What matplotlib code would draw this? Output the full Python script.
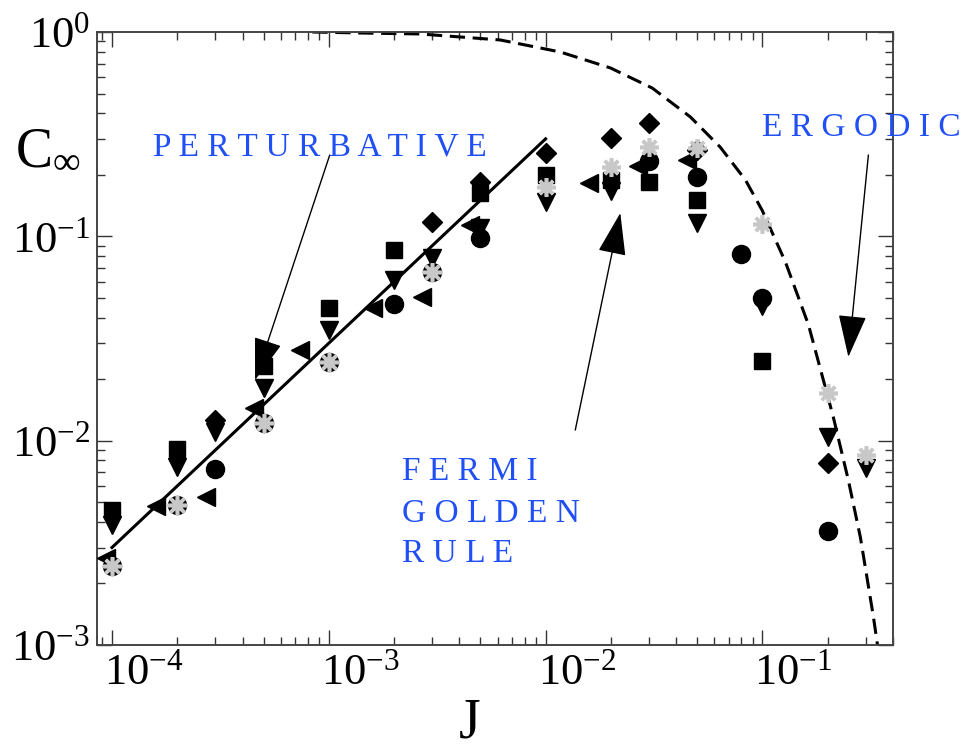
"""Saturation value C_inf versus coupling J, log-log, with regime annotations."""

import matplotlib.pyplot as plt
from matplotlib.ticker import LogLocator, NullFormatter

plt.rcParams["font.family"] = ["Liberation Serif", "DejaVu Serif"]
plt.rcParams["mathtext.fontset"] = "custom"
plt.rcParams["mathtext.rm"] = "Liberation Serif"
plt.rcParams["mathtext.it"] = "Liberation Serif:italic"

# data
sq_j = [1e-4, 2e-4, 5e-4, 1e-3, 2e-3, 5e-3, 1e-2, 2e-2, 3e-2, 5e-2, 0.1]
sq_c = [4.57e-3, 9.1e-3, 2.32e-2, 4.46e-2, 8.57e-2, 0.163, 0.200, 0.189, 0.184, 0.151, 0.0245]

dn_j = [1e-4, 2e-4, 3e-4, 5e-4, 1e-3, 2e-3, 3e-3, 5e-3, 1e-2, 2e-2, 5e-2, 0.1, 0.2, 0.3]
dn_c = [3.86e-3, 7.43e-3, 1.10e-2, 1.81e-2, 3.48e-2, 6.11e-2, 7.83e-2, 0.110, 0.147, 0.167,
        0.116, 0.0456, 1.04e-2, 7.34e-3]

dia_j = [3e-4, 3e-3, 5e-3, 1e-2, 2e-2, 3e-2, 5e-2, 0.2]
dia_c = [1.26e-2, 0.1175, 0.184, 0.256, 0.303, 0.359, 0.265, 7.77e-3]

lt_j = [9.4e-5, 1.6e-4, 2.7e-4, 4.5e-4, 7.4e-4, 1.6e-3, 2.7e-3, 4.5e-3, 1.59e-2, 2.67e-2, 4.5e-2]
lt_c = [2.66e-3, 4.79e-3, 5.30e-3, 1.44e-2, 2.78e-2, 4.46e-2, 0.0505, 0.1135, 0.182, 0.221, 0.236]

circ_j = [1e-4, 2e-4, 3e-4, 5e-4, 1e-3, 2e-3, 3e-3, 5e-3, 3e-2, 5e-2, 8e-2, 0.1, 0.2]
circ_c = [2.43e-3, 4.84e-3, 7.3e-3, 1.22e-2, 2.43e-2, 4.66e-2, 6.7e-2, 9.8e-2, 0.234, 0.195,
          0.082, 0.050, 3.6e-3]

ast_j = [1e-4, 2e-4, 5e-4, 1e-3, 3e-3, 1e-2, 2e-2, 3e-2, 5e-2, 0.1, 0.2, 0.3]
ast_c = [2.43e-3, 4.84e-3, 1.22e-2, 2.43e-2, 6.7e-2, 0.174, 0.218, 0.274, 0.270, 0.115,
         0.0171, 0.0085]

# perturbative fit line and ergodic curve
pert_j = [1e-4, 1e-2]
pert_c = [3.0e-3, 0.30]

erg_j = [8.4e-4, 1.39e-3, 2.64e-3, 6.18e-3, 1.17e-2, 1.99e-2, 3.10e-2, 4.65e-2, 6.39e-2,
         8.34e-2, 0.0997, 0.1276, 0.163, 0.212, 0.249, 0.283, 0.325, 0.350]
erg_c = [1.0, 0.989, 0.978, 0.914, 0.798, 0.667, 0.532, 0.384, 0.273,
         0.189, 0.134, 0.0749, 0.0369, 0.0131, 6.4e-3, 3.36e-3, 1.37e-3, 7.97e-4]

x_ticks = [1e-4, 1e-3, 1e-2, 1e-1]
x_labels = [r"$10^{-4}$", r"$10^{-3}$", r"$10^{-2}$", r"$10^{-1}$"]
y_ticks = [1e-3, 1e-2, 1e-1, 1e0]
y_labels = [r"$10^{-3}$", r"$10^{-2}$", r"$10^{-1}$", r"$10^{0}$"]

BLUE = "#1f4ff5"

fig = plt.figure(figsize=(9.79, 7.49), dpi=100)
ax = fig.add_axes([97 / 979, 1 - 645 / 749, (893 - 97) / 979, (645 - 32) / 749])

ax.plot(erg_j, erg_c, color="black", linestyle=(0, (5, 2.5)), linewidth=2.2, zorder=2)
ax.plot(pert_j, pert_c, color="black", linewidth=2.2, zorder=2)

ax.plot(sq_j, sq_c, "s", color="black", markersize=11.5, linestyle="none", zorder=3)
ax.plot(dn_j, dn_c, "v", color="black", markersize=13.5, linestyle="none", zorder=3)
ax.plot(dia_j, dia_c, "D", color="black", markersize=10.5, linestyle="none", zorder=3)
ax.plot(lt_j, lt_c, "<", color="black", markersize=13.5, linestyle="none", zorder=3)
ax.plot(circ_j, circ_c, "o", color="black", markersize=13, linestyle="none", zorder=3)
ax.plot(ast_j, ast_c, marker=(8, 2, 0), color="#c8c8c8", markersize=13.5, markeredgewidth=2.6,
        linestyle="none", zorder=4)

ax.set_xscale("log")
ax.set_yscale("log")
ax.set_xlim(0.853e-4, 0.40)
ax.set_ylim(1e-3, 1.0)

ax.set_xticks(x_ticks)
ax.set_xticklabels([])
ax.set_yticks(y_ticks)
ax.set_yticklabels(y_labels)
ax.xaxis.set_minor_locator(LogLocator(base=10, subs=range(2, 10)))
ax.yaxis.set_minor_locator(LogLocator(base=10, subs=range(2, 10)))
ax.xaxis.set_minor_formatter(NullFormatter())
ax.yaxis.set_minor_formatter(NullFormatter())
ax.tick_params(which="both", direction="in", top=True, right=True, width=1.0, color="#333333")
ax.tick_params(which="major", length=11)
ax.tick_params(which="minor", length=6)
ax.tick_params(axis="y", which="major", labelsize=32, pad=5)
for spine in ax.spines.values():
    spine.set_linewidth(1.4)
    spine.set_color("#444444")

# x tick labels sit slightly right of their ticks, as in the reference
for tick, label in zip(x_ticks, x_labels):
    ax.annotate(label, xy=(tick, 0), xycoords=("data", "axes fraction"),
                xytext=(-8, -8), textcoords="offset pixels", ha="left", va="top",
                fontsize=32, annotation_clip=False)

fig.text(15 / 979, 1 - 163 / 749, r"C$_{\infty}$", fontsize=40, ha="left", va="baseline")
fig.text(470 / 979, 1 - 738 / 749, "J", fontsize=40, ha="center", va="baseline")

text_kw = dict(color=BLUE, fontsize=24, ha="left", va="baseline")
fig.text(153 / 979, 1 - 155 / 749, "P E R T U R B A T I V E", **text_kw)
fig.text(762 / 979, 1 - 136 / 749, "E R G O D I C", **text_kw)
fig.text(402 / 979, 1 - 480 / 749, "F E R M I", **text_kw)
fig.text(402 / 979, 1 - 522 / 749, "G O L D E N", **text_kw)
fig.text(402 / 979, 1 - 562 / 749, "R U L E", **text_kw)

arrow_kw = dict(arrowstyle="-|>,head_length=1.8,head_width=0.6", color="black", lw=1.0,
                shrinkA=0, shrinkB=0, mutation_scale=15)
ax.annotate("", xy=(4.57e-4, 0.0198), xytext=(1.01e-3, 0.25), arrowprops=arrow_kw)
ax.annotate("", xy=(0.0221, 0.130), xytext=(0.0137, 0.01127), arrowprops=arrow_kw)
ax.annotate("", xy=(0.249, 0.0257), xytext=(0.308, 0.25), arrowprops=arrow_kw)

fig.savefig("out.png", dpi=100)
